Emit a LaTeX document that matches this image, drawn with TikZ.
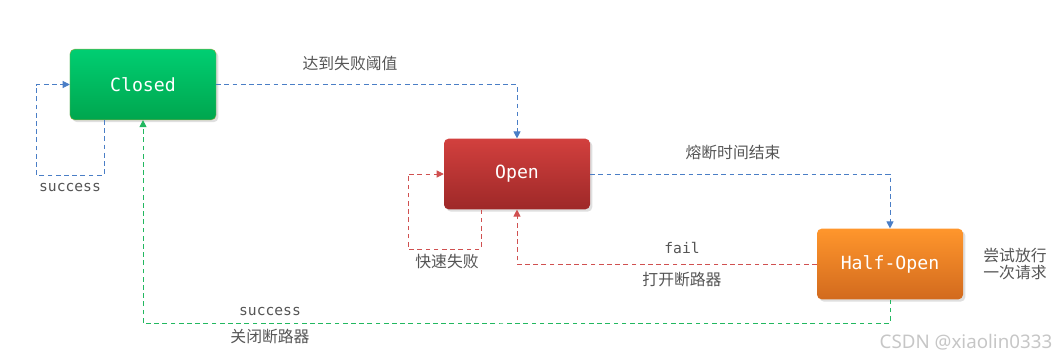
\documentclass[tikz,border=0pt]{standalone}
\usepackage{fontspec}
\setmainfont{Noto Sans}
\setmonofont{DejaVu Sans Mono}
\newfontfamily\cjk{Noto Sans CJK SC}
\usepackage{xcolor}
\usepackage{tikz}
\usetikzlibrary{arrows.meta, positioning, shadows}
\definecolor{grntop}{RGB}{0,206,114}
\definecolor{grnbot}{RGB}{0,166,78}
\definecolor{grnedge}{RGB}{150,170,70}
\definecolor{redtop}{RGB}{210,64,62}
\definecolor{redbot}{RGB}{158,40,40}
\definecolor{orgtop}{RGB}{255,150,44}
\definecolor{orgbot}{RGB}{210,106,30}
\definecolor{myblue}{RGB}{74,126,198}
\definecolor{myred}{RGB}{208,80,80}
\definecolor{mygreen}{RGB}{34,184,96}
\definecolor{mytext}{RGB}{85,85,85}
\tikzset{
  state/.style={rectangle, rounded corners=4pt, minimum width=4.38cm,
    minimum height=2.12cm, font=\ttfamily\fontsize{15.5}{17}\selectfont,
    text=white, drop shadow={opacity=0.25, shadow xshift=2pt, shadow yshift=-2pt}},
  closedstate/.style={state, top color=grntop, bottom color=grnbot, draw=grnedge, line width=0.4pt},
  openstate/.style={state, top color=redtop, bottom color=redbot},
  halfstate/.style={state, top color=orgtop, bottom color=orgbot},
  flow/.style={-{Triangle[length=6pt, width=6pt]}, dash pattern=on 4pt off 3pt, line width=0.8pt},
  bluearrow/.style={flow, color=myblue},
  redarrow/.style={flow, color=myred},
  greenarrow/.style={flow, color=mygreen},
  lbl/.style={text=mytext, font=\cjk\fontsize{13.5}{16}\selectfont, align=center},
  codelbl/.style={text=mytext, font=\ttfamily\fontsize{12.5}{15}\selectfont}
}

\begin{document}
\begin{tikzpicture}[x=0.03cm, y=-0.03cm]
  \useasboundingbox (0,0) rectangle (1062,360);

  % States
  \node[closedstate] (closed) at (143,84.5) {Closed};
  \node[openstate] (open) at (517,174) {Open};
  \node[halfstate] (half) at (890,264) {Half-Open};

  % Loop corners
  \coordinate (cloopa) at (104,175);
  \coordinate (cloopb) at (36,175);
  \coordinate (oloopa) at (481,249);
  \coordinate (oloopb) at (408,249);
  \coordinate (gline) at (500,323);

  % Connections
  \draw[bluearrow] (closed.south -| cloopa) -- (cloopa) -- (cloopb) |- (closed.west);
  \draw[bluearrow] (closed.east) -| (open.north);
  \draw[redarrow] (open.south -| oloopa) -- (oloopa) -- (oloopb) |- (open.west);
  \draw[bluearrow] (open.east) -| (half.north);
  \draw[redarrow] (half.west) -| (open.south);
  \draw[greenarrow] (half.south) |- (gline) -| (closed.south);

  % Labels
  \node[codelbl] (lsucc1) at (70,187) {success};
  \node[lbl] (lthresh) at (350,63) {达到失败阈值};
  \node[lbl] (lfast) at (447,262) {快速失败};
  \node[lbl] (ltimeout) at (733,152) {熔断时间结束};
  \node[codelbl] (lfail) at (682,248) {fail};
  \node[lbl] (lopen) at (682,280) {打开断路器};
  \node[lbl] (ltry) at (1015,264) {尝试放行\\[-2pt]一次请求};
  \node[codelbl] (lsucc2) at (270,311) {success};
  \node[lbl] (lclose) at (270,337) {关闭断路器};
  \node[text=gray!45, font=\fontsize{16}{18}\selectfont] (mark) at (966,342) {CSDN @xiaolin0333};
\end{tikzpicture}
\end{document}
